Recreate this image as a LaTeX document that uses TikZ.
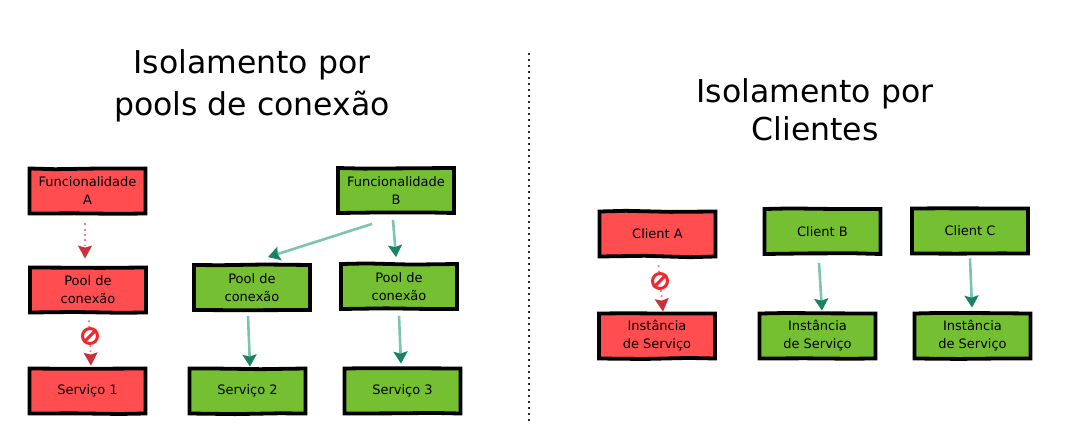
\documentclass[tikz,border=0pt]{standalone}
\usepackage{fontspec}
\setmainfont{DejaVu Sans}
\usetikzlibrary{arrows.meta,decorations.pathmorphing}
\pgfmathsetseed{7}
\definecolor{boxred}{HTML}{FF4D50}
\definecolor{boxgreen}{HTML}{75BF33}
\definecolor{stemgreen}{HTML}{7CC4AE}
\definecolor{headgreen}{HTML}{1B8266}
\definecolor{stemred}{HTML}{E8808A}
\definecolor{headred}{HTML}{C8323C}
\definecolor{signred}{HTML}{F0282E}
\tikzset{
  box/.style={draw=black,line width=3.8pt,minimum width=116pt,minimum height=45pt,inner sep=0pt,align=center,font=\fontsize{13}{18}\selectfont,text=black,decorate,decoration={random steps,segment length=45pt,amplitude=0.7pt}},
  redbox/.style={box,fill=boxred},
  greenbox/.style={box,fill=boxgreen},
  title/.style={align=center,font=\fontsize{31.5}{42}\selectfont,text=black,inner sep=0pt},
  goodline/.style={draw=stemgreen,line width=2.6pt,-{Stealth[color=headgreen,length=12pt,width=14pt,inset=2pt]}},
  badline/.style={draw=stemred,line width=1.8pt,dash pattern=on 1.8pt off 3.5pt},
  badtip/.style={badline,-{Stealth[color=headred,length=13pt,width=14pt,inset=2pt]}},
  signnode/.style={circle,draw=signred,line width=3pt,fill=white,minimum size=15pt,inner sep=0pt},
  signbar/.style={draw=signred,line width=3pt},
  divider/.style={draw=black!85,line width=1.3pt,dash pattern=on 1.5pt off 4.5pt}
}
\begin{document}
\begin{tikzpicture}[x=1pt,y=-1pt]
\useasboundingbox (0,0) rectangle (1066,447);
% titles
\node[title] (t1) at (252,85.5) {Isolamento por\\pools de conexão};
\node[title] (t2) at (815,110) {Isolamento por\\[-4pt]Clientes};
% divider
\coordinate (d1) at (529,53);
\coordinate (d2) at (529,424);
\draw[divider] (d1) -- (d2);
% left panel
\node[redbox] (funcA) at (87.5,191) {Funcionalidade\\A};
\node[redbox] (poolA) at (88,290) {Pool de\\conexão};
\node[redbox] (servA) at (87.5,391) {Serviço 1};
\node[greenbox] (funcB) at (396,190.5) {Funcionalidade\\B};
\node[greenbox] (poolB) at (252,287.5) {Pool de\\conexão};
\node[greenbox] (poolC) at (399,286.5) {Pool de\\conexão};
\node[greenbox] (servB) at (247.5,391) {Serviço 2};
\node[greenbox] (servC) at (402.5,391) {Serviço 3};
% right panel
\node[redbox] (cliA) at (657.5,234) {Client A};
\node[redbox] (instA) at (657,336) {Instância\\de Serviço};
\node[greenbox] (cliB) at (822.5,231.5) {Client B};
\node[greenbox] (instB) at (817.5,336) {Instância\\de Serviço};
\node[greenbox] (cliC) at (970,231) {Client C};
\node[greenbox] (instC) at (972.5,336) {Instância\\de Serviço};
% forbidden signs
\node[signnode] (noA) at (90,336) {};
\node[signnode] (noB) at (660,281) {};
% connectors
\draw[badtip] ([xshift=-2.5pt,yshift=-8pt]funcA.south) -- ([xshift=-3pt,yshift=7pt]poolA.north);
\draw[badline] ([xshift=1pt,yshift=-6pt]poolA.south) -- (noA);
\draw[badtip] (noA) -- ([xshift=3.5pt,yshift=1pt]servA.north);
\draw[badline] ([xshift=1pt,yshift=-7pt]cliA.south) -- (noB);
\draw[badtip] (noB) -- ([xshift=6pt,yshift=0pt]instA.north);
\draw[goodline] ([xshift=-24pt,yshift=-9pt]funcB.south) -- ([xshift=16pt,yshift=6pt]poolB.north);
\draw[goodline] ([xshift=-3pt,yshift=-5pt]funcB.south) -- ([xshift=-3pt,yshift=5pt]poolC.north);
\draw[goodline] ([xshift=-4pt,yshift=-4pt]poolB.south) -- ([xshift=2.5pt,yshift=0pt]servB.north);
\draw[goodline] ([xshift=0pt,yshift=-5pt]poolC.south) -- ([xshift=-1.5pt,yshift=3pt]servC.north);
\draw[goodline] ([xshift=-3.5pt,yshift=-7pt]cliB.south) -- ([xshift=4.5pt,yshift=1pt]instB.north);
\draw[goodline] ([yshift=-3pt]cliC.south) -- ([xshift=-0.5pt,yshift=4pt]instC.north);
% slashes over the signs
\draw[signbar] (noA.225) -- (noA.45);
\draw[signbar] (noB.225) -- (noB.45);
\end{tikzpicture}
\end{document}
